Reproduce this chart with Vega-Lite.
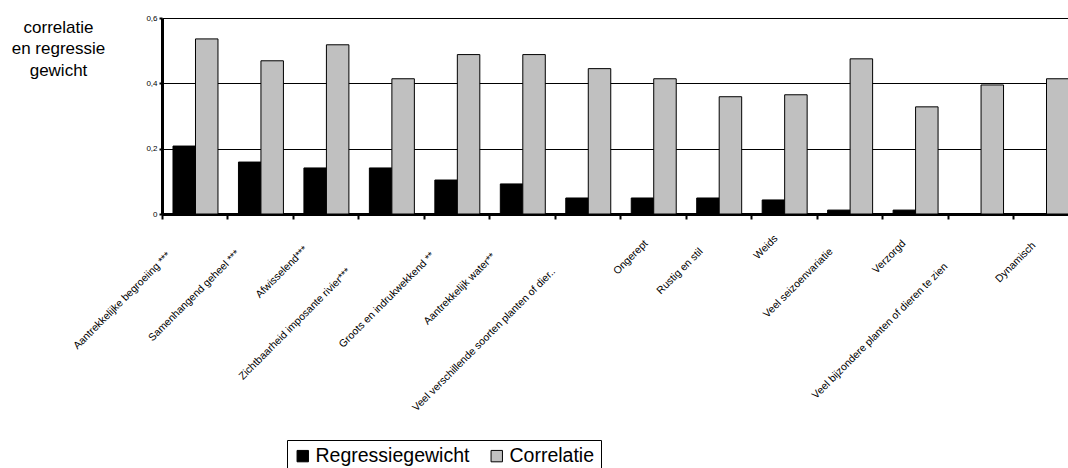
{
  "$schema": "https://vega.github.io/schema/vega-lite/v6.json",
  "width": 906,
  "height": 196,
  "autosize": {"type": "none"},
  "padding": {"left": 162, "top": 18, "right": 0, "bottom": 254},
  "background": "white",
  "data": {
    "values": [
      {"kenmerk": "Aantrekkelijke begroeiing ***", "reeks": "Regressiegewicht", "waarde": 0.208},
      {"kenmerk": "Aantrekkelijke begroeiing ***", "reeks": "Correlatie", "waarde": 0.536},
      {"kenmerk": "Samenhangend geheel ***", "reeks": "Regressiegewicht", "waarde": 0.159},
      {"kenmerk": "Samenhangend geheel ***", "reeks": "Correlatie", "waarde": 0.469},
      {"kenmerk": "Afwisselend***", "reeks": "Regressiegewicht", "waarde": 0.141},
      {"kenmerk": "Afwisselend***", "reeks": "Correlatie", "waarde": 0.518},
      {"kenmerk": "Zichtbaarheid imposante rivier***", "reeks": "Regressiegewicht", "waarde": 0.141},
      {"kenmerk": "Zichtbaarheid imposante rivier***", "reeks": "Correlatie", "waarde": 0.414},
      {"kenmerk": "Groots en indrukwekkend **", "reeks": "Regressiegewicht", "waarde": 0.104},
      {"kenmerk": "Groots en indrukwekkend **", "reeks": "Correlatie", "waarde": 0.488},
      {"kenmerk": "Aantrekkelijk water**", "reeks": "Regressiegewicht", "waarde": 0.092},
      {"kenmerk": "Aantrekkelijk water**", "reeks": "Correlatie", "waarde": 0.488},
      {"kenmerk": "Veel verschillende soorten planten of dier..", "reeks": "Regressiegewicht", "waarde": 0.049},
      {"kenmerk": "Veel verschillende soorten planten of dier..", "reeks": "Correlatie", "waarde": 0.445},
      {"kenmerk": "Ongerept", "reeks": "Regressiegewicht", "waarde": 0.049},
      {"kenmerk": "Ongerept", "reeks": "Correlatie", "waarde": 0.414},
      {"kenmerk": "Rustig en stil", "reeks": "Regressiegewicht", "waarde": 0.049},
      {"kenmerk": "Rustig en stil", "reeks": "Correlatie", "waarde": 0.359},
      {"kenmerk": "Weids", "reeks": "Regressiegewicht", "waarde": 0.043},
      {"kenmerk": "Weids", "reeks": "Correlatie", "waarde": 0.365},
      {"kenmerk": "Veel seizoenvariatie", "reeks": "Regressiegewicht", "waarde": 0.012},
      {"kenmerk": "Veel seizoenvariatie", "reeks": "Correlatie", "waarde": 0.475},
      {"kenmerk": "Verzorgd", "reeks": "Regressiegewicht", "waarde": 0.012},
      {"kenmerk": "Verzorgd", "reeks": "Correlatie", "waarde": 0.328},
      {"kenmerk": "Veel bijzondere planten of dieren te zien", "reeks": "Regressiegewicht", "waarde": 0.001},
      {"kenmerk": "Veel bijzondere planten of dieren te zien", "reeks": "Correlatie", "waarde": 0.395},
      {"kenmerk": "Dynamisch", "reeks": "Regressiegewicht", "waarde": 0.001},
      {"kenmerk": "Dynamisch", "reeks": "Correlatie", "waarde": 0.414}
    ]
  },
  "mark": {"type": "bar", "stroke": "black", "strokeWidth": 1},
  "encoding": {
    "x": {
      "field": "kenmerk",
      "type": "nominal",
      "sort": null,
      "scale": {"range": [0, 918], "paddingInner": 0.313, "paddingOuter": 0.168},
      "axis": {
        "title": null,
        "labelAngle": -45,
        "labelAlign": "right",
        "labelBaseline": "top",
        "labelFont": "Liberation Sans",
        "labelFontSize": 10.5,
        "labelColor": "black",
        "labelLimit": 500,
        "labelOverlap": false,
        "labelBound": false,
        "labelPadding": {"expr": "[31,29,25,47,31,32,47,19,27,14,27,19,42,21][indexof(['Aantrekkelijke begroeiing ***','Samenhangend geheel ***','Afwisselend***','Zichtbaarheid imposante rivier***','Groots en indrukwekkend **','Aantrekkelijk water**','Veel verschillende soorten planten of dier..','Ongerept','Rustig en stil','Weids','Veel seizoenvariatie','Verzorgd','Veel bijzondere planten of dieren te zien','Dynamisch'], datum.value)]"},
        "labelOffset": {"expr": "[3,6.5,9,-13.5,5,0.5,-5,22,11.5,21,10.5,18,-5.5,17][indexof(['Aantrekkelijke begroeiing ***','Samenhangend geheel ***','Afwisselend***','Zichtbaarheid imposante rivier***','Groots en indrukwekkend **','Aantrekkelijk water**','Veel verschillende soorten planten of dier..','Ongerept','Rustig en stil','Weids','Veel seizoenvariatie','Verzorgd','Veel bijzondere planten of dieren te zien','Dynamisch'], datum.value)]"},
        "tickSize": 5,
        "tickWidth": 2,
        "tickColor": "black",
        "tickOffset": -33.5,
        "domainColor": "black",
        "domainWidth": 3,
        "grid": false
      }
    },
    "xOffset": {
      "field": "reeks",
      "sort": ["Regressiegewicht", "Correlatie"],
      "scale": {"paddingInner": 0, "paddingOuter": 0}
    },
    "y": {
      "field": "waarde",
      "type": "quantitative",
      "scale": {"domain": [0, 0.6], "nice": false},
      "axis": {
        "title": ["correlatie", "en regressie", "gewicht"],
        "titleAngle": 0,
        "titleAlign": "center",
        "titleBaseline": "alphabetic",
        "titleX": -104,
        "titleY": 14,
        "titleFont": "Liberation Sans",
        "titleFontSize": 17,
        "titleFontWeight": "normal",
        "titleColor": "black",
        "titleLineHeight": 21.5,
        "values": [0, 0.2, 0.4, 0.6],
        "labelExpr": "datum.value == 0 ? '0' : replace(format(datum.value, '.1f'), '.', ',')",
        "labelFont": "Liberation Sans",
        "labelFontSize": 8,
        "labelColor": "black",
        "labelPadding": 2,
        "tickSize": 3,
        "tickWidth": 2,
        "tickColor": "black",
        "domainColor": "black",
        "domainWidth": 3,
        "grid": true,
        "gridColor": "black",
        "gridWidth": 1,
        "gridOpacity": 1
      }
    },
    "color": {
      "field": "reeks",
      "type": "nominal",
      "sort": ["Regressiegewicht", "Correlatie"],
      "scale": {"domain": ["Regressiegewicht", "Correlatie"], "range": ["#000000", "#c0c0c0"]},
      "legend": {
        "title": null,
        "orient": "none",
        "legendX": 125,
        "legendY": 422,
        "direction": "horizontal",
        "strokeColor": "black",
        "fillColor": "white",
        "padding": 6,
        "symbolType": "square",
        "symbolSize": 130,
        "symbolStrokeColor": "black",
        "symbolStrokeWidth": 1,
        "labelFont": "Liberation Sans",
        "labelFontSize": 19.5,
        "labelColor": "black",
        "labelOffset": 3,
        "labelLimit": 400,
        "columnPadding": 17
      }
    }
  },
  "config": {"view": {"stroke": null}, "font": "Liberation Sans"}
}
